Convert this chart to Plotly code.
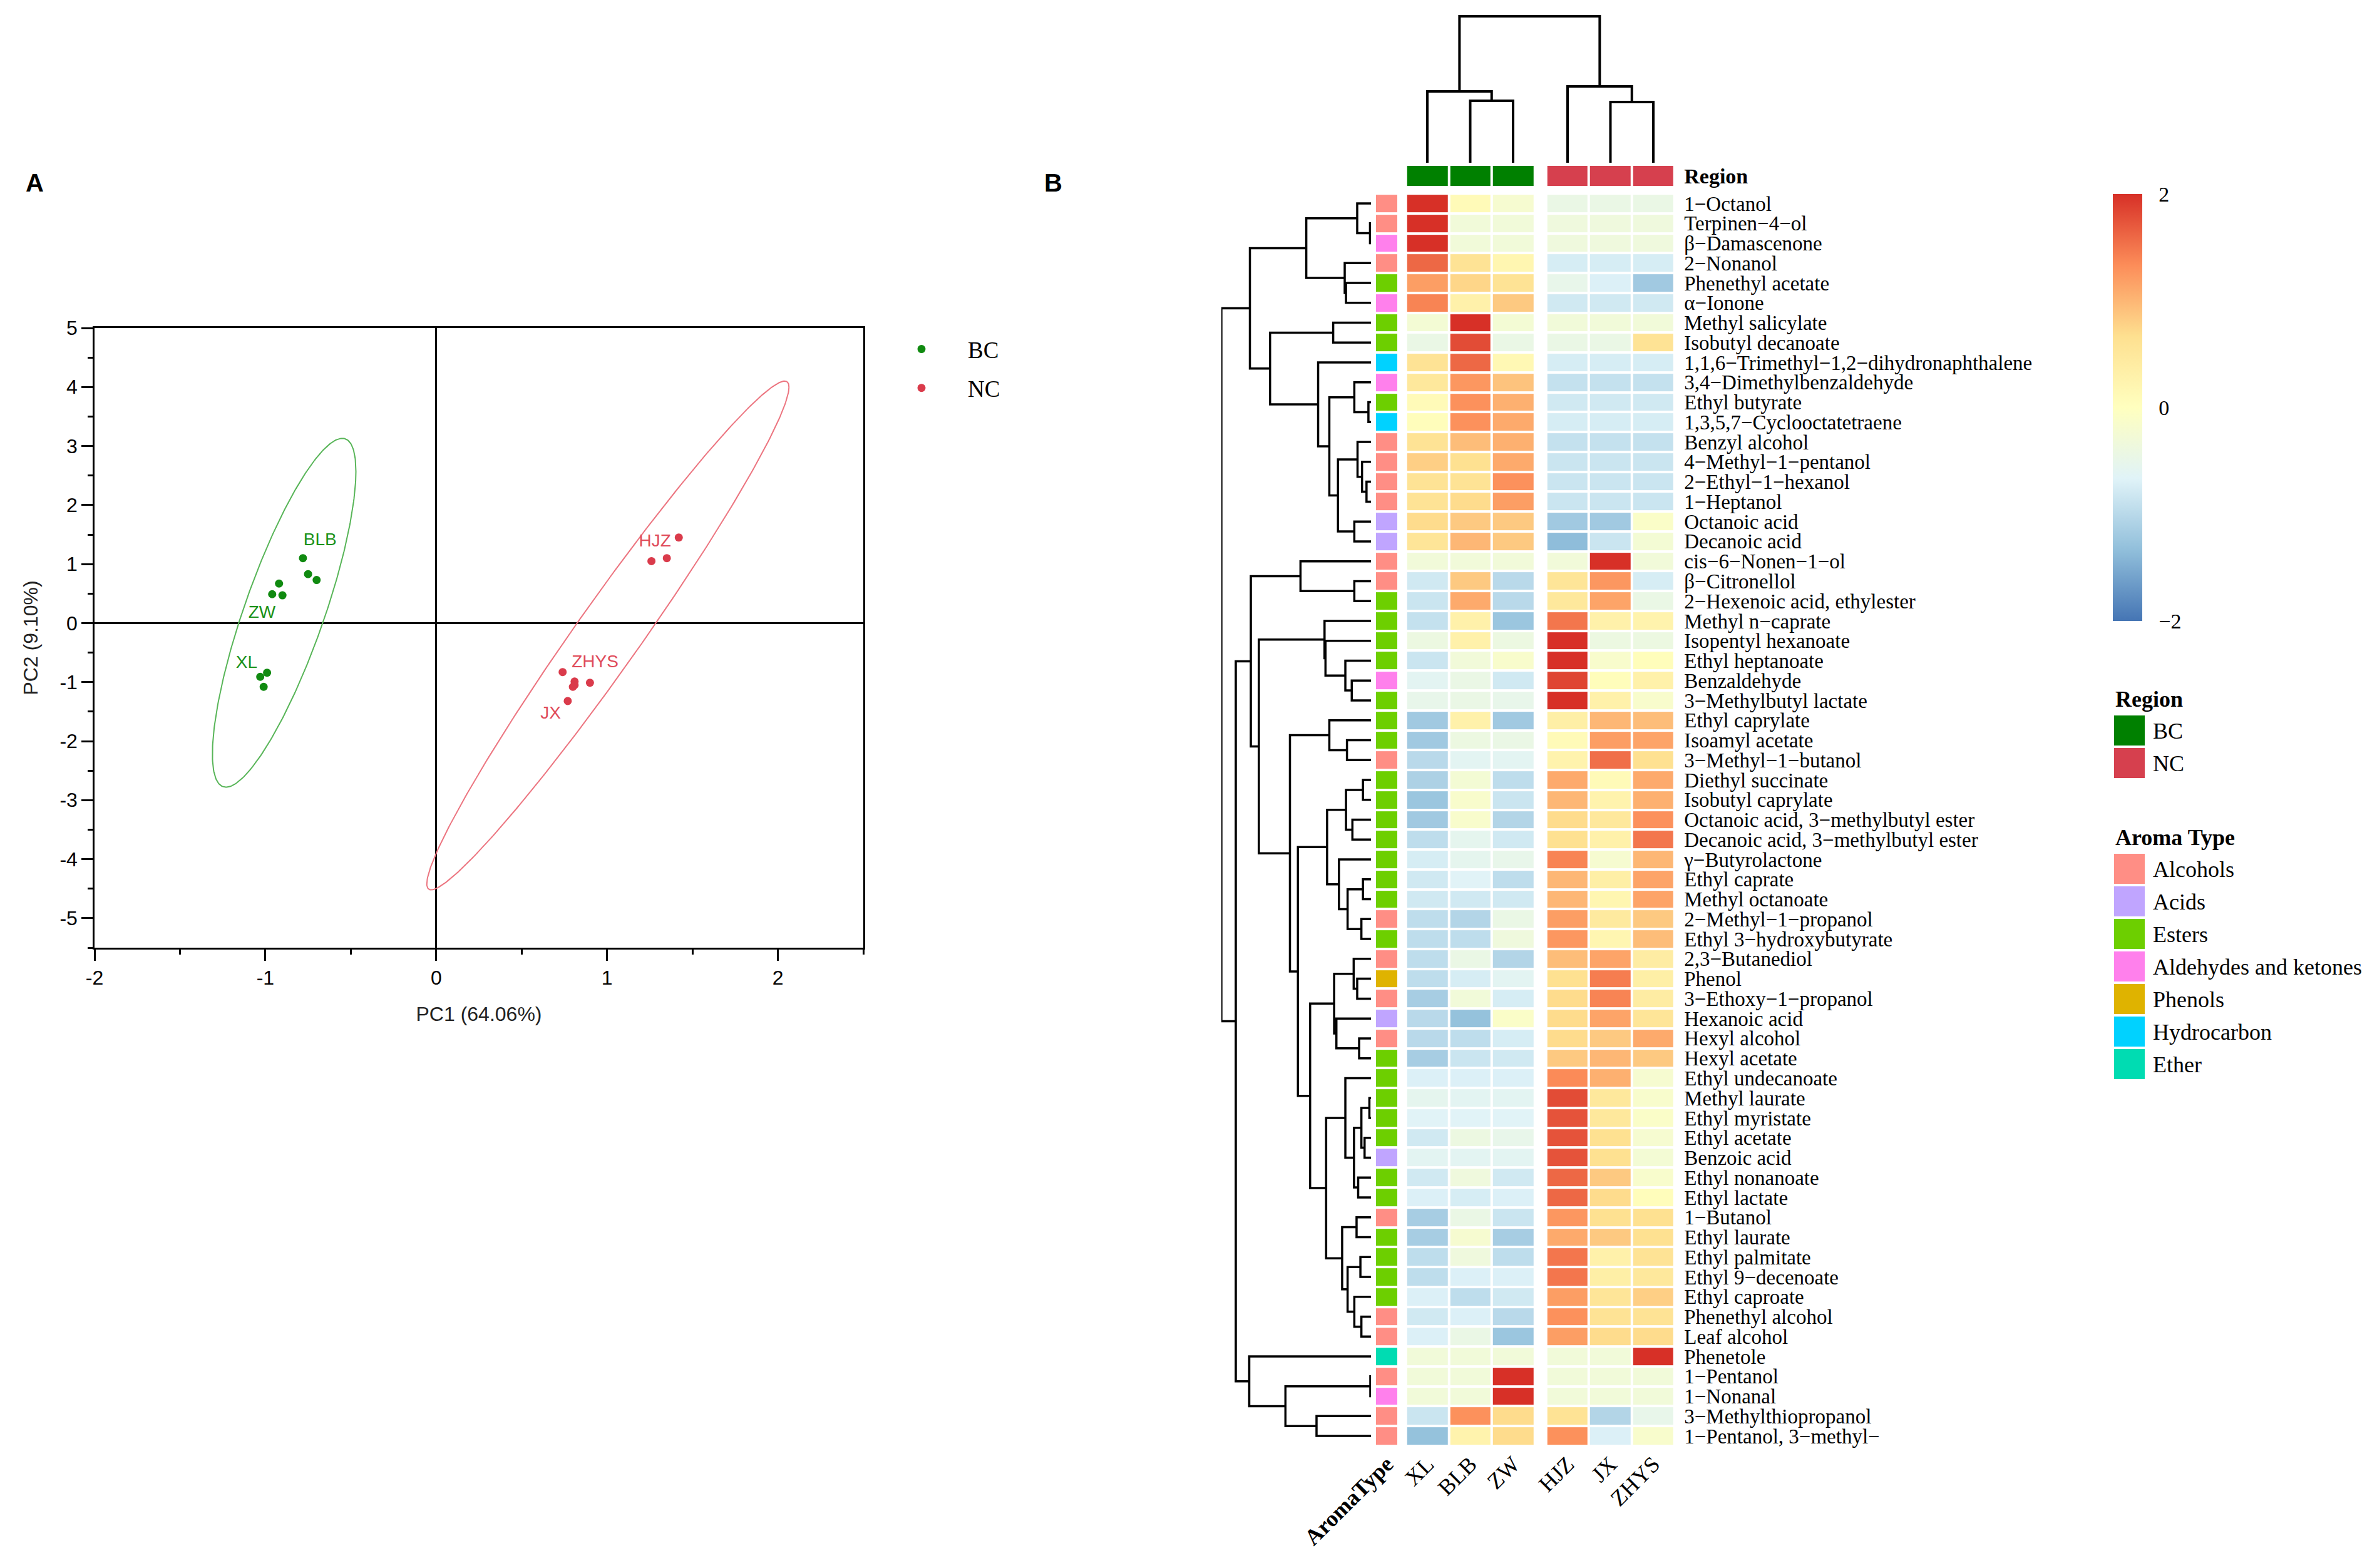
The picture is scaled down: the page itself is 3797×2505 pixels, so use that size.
import numpy as np
import plotly.graph_objects as go

W, H = 3797, 2505
PAGE_OFF = 8  # the page body offsets the figure by 8 px; positions below are page pixels
def fx(p): return (p - PAGE_OFF) / W
def fy(p): return 1 - (p - PAGE_OFF) / H

# ---------------- PCA data ----------------
pca_sample = ["BLB", "BLB", "BLB", "ZW", "ZW", "ZW", "XL", "XL", "XL",
              "HJZ", "HJZ", "HJZ", "ZHYS", "ZHYS", "ZHYS", "JX", "JX", "JX"]
pca_region = ["BC"] * 9 + ["NC"] * 9
pc1 = [-0.78, -0.75, -0.70, -0.92, -0.96, -0.90, -0.99, -1.03, -1.01,
       1.42, 1.35, 1.26, 0.74, 0.81, 0.90, 0.80, 0.77, 0.81]
pc2 = [1.10, 0.83, 0.73, 0.67, 0.49, 0.47, -0.84, -0.91, -1.08,
       1.45, 1.10, 1.05, -0.83, -0.99, -1.01, -1.08, -1.32, -1.05]
label_names = ["BLB", "ZW", "XL", "HJZ", "ZHYS", "JX"]
label_region = ["BC", "BC", "BC", "NC", "NC", "NC"]
label_pc1 = [-0.68, -1.02, -1.11, 1.28, 0.93, 0.67]
label_pc2 = [1.39, 0.16, -0.69, 1.37, -0.67, -1.54]
# confidence ellipse parameters: centre, sd along PC1/PC2, correlation
ell_region = ["BC", "NC"]
ell_cx = [-0.89, 1.005]
ell_cy = [0.175, -0.21]
ell_sx = [0.42, 1.06]
ell_sy = [2.955, 4.31]
ell_rho = [0.81, 0.976]

# ---------------- Heatmap data ----------------
samples = ["XL", "BLB", "ZW", "HJZ", "JX", "ZHYS"]
sample_region = ["BC", "BC", "BC", "NC", "NC", "NC"]
compounds = [
    "1−Octanol", "Terpinen−4−ol", "β−Damascenone", "2−Nonanol", "Phenethyl acetate",
    "α−Ionone", "Methyl salicylate", "Isobutyl decanoate",
    "1,1,6−Trimethyl−1,2−dihydronaphthalene", "3,4−Dimethylbenzaldehyde",
    "Ethyl butyrate", "1,3,5,7−Cyclooctatetraene", "Benzyl alcohol",
    "4−Methyl−1−pentanol", "2−Ethyl−1−hexanol", "1−Heptanol", "Octanoic acid",
    "Decanoic acid", "cis−6−Nonen−1−ol", "β−Citronellol",
    "2−Hexenoic acid, ethylester", "Methyl n−caprate", "Isopentyl hexanoate",
    "Ethyl heptanoate", "Benzaldehyde", "3−Methylbutyl lactate", "Ethyl caprylate",
    "Isoamyl acetate", "3−Methyl−1−butanol", "Diethyl succinate", "Isobutyl caprylate",
    "Octanoic acid, 3−methylbutyl ester", "Decanoic acid, 3−methylbutyl ester",
    "γ−Butyrolactone", "Ethyl caprate", "Methyl octanoate", "2−Methyl−1−propanol",
    "Ethyl 3−hydroxybutyrate", "2,3−Butanediol", "Phenol", "3−Ethoxy−1−propanol",
    "Hexanoic acid", "Hexyl alcohol", "Hexyl acetate", "Ethyl undecanoate",
    "Methyl laurate", "Ethyl myristate", "Ethyl acetate", "Benzoic acid",
    "Ethyl nonanoate", "Ethyl lactate", "1−Butanol", "Ethyl laurate",
    "Ethyl palmitate", "Ethyl 9−decenoate", "Ethyl caproate", "Phenethyl alcohol",
    "Leaf alcohol", "Phenetole", "1−Pentanol", "1−Nonanal", "3−Methylthiopropanol",
    "1−Pentanol, 3−methyl−"]
aroma_of_compound = [
    "Alcohols", "Alcohols", "Aldehydes and ketones", "Alcohols", "Esters",
    "Aldehydes and ketones", "Esters", "Esters", "Hydrocarbon", "Aldehydes and ketones",
    "Esters", "Hydrocarbon", "Alcohols", "Alcohols", "Alcohols", "Alcohols", "Acids",
    "Acids", "Alcohols", "Alcohols", "Esters", "Esters", "Esters", "Esters",
    "Aldehydes and ketones", "Esters", "Esters", "Esters", "Alcohols", "Esters",
    "Esters", "Esters", "Esters", "Esters", "Esters", "Esters", "Alcohols", "Esters",
    "Alcohols", "Phenols", "Alcohols", "Acids", "Alcohols", "Esters", "Esters",
    "Esters", "Esters", "Esters", "Acids", "Esters", "Esters", "Alcohols", "Esters",
    "Esters", "Esters", "Esters", "Alcohols", "Alcohols", "Ether", "Alcohols",
    "Aldehydes and ketones", "Alcohols", "Alcohols"]

z_XL = [2.0, 2.0, 2.0, 1.6, 1.2, 1.4, -0.25, -0.45, 0.6, 0.5, 0.1, 0.05, 0.6, 0.8, 0.6,
        0.6, 0.7, 0.55, -0.3, -0.8, -0.85, -0.9, -0.4, -0.85, -0.6, -0.5, -1.2, -1.2,
        -1.0, -1.1, -1.25, -1.2, -0.95, -0.75, -0.8, -0.8, -0.95, -0.95, -0.95, -0.95,
        -1.15, -1.0, -1.0, -1.15, -0.7, -0.55, -0.65, -0.8, -0.6, -0.8, -0.7, -1.15,
        -1.15, -0.95, -0.95, -0.7, -0.8, -0.7, -0.3, -0.3, -0.3, -0.85, -1.3]
z_BLB = [0.1, -0.3, -0.3, 0.6, 0.75, 0.3, 2.0, 1.8, 1.6, 1.25, 1.3, 1.3, 0.95, 0.65,
         0.6, 0.7, 0.85, 1.0, -0.3, 0.85, 1.1, 0.3, 0.3, -0.3, -0.45, -0.45, 0.3, -0.4,
         -0.6, -0.25, -0.15, -0.15, -0.55, -0.55, -0.65, -0.8, -1.05, -0.95, -0.45,
         -0.75, -0.3, -1.3, -0.95, -0.85, -0.7, -0.6, -0.65, -0.4, -0.6, -0.35, -0.75,
         -0.45, -0.2, -0.35, -0.7, -0.95, -0.7, -0.45, -0.3, -0.3, -0.3, 1.3, 0.25]
z_ZW = [-0.2, -0.3, -0.3, 0.2, 0.6, 0.85, -0.25, -0.45, 0.15, 0.9, 1.05, 1.1, 1.05, 1.1,
        1.3, 1.2, 0.85, 0.85, -0.3, -1.0, -1.0, -1.25, -0.4, -0.15, -0.8, -0.5, -1.2,
        -0.45, -0.6, -0.95, -0.85, -1.05, -0.8, -0.5, -0.95, -0.8, -0.45, -0.35, -1.05,
        -0.6, -0.75, -0.1, -0.75, -0.8, -0.7, -0.6, -0.65, -0.5, -0.6, -0.8, -0.7,
        -0.85, -1.15, -0.95, -0.7, -0.8, -1.0, -1.25, -0.3, 2.0, 2.0, 0.7, 0.7]
z_HJZ = [-0.45, -0.35, -0.35, -0.75, -0.5, -0.8, -0.3, -0.45, -0.75, -0.9, -0.8, -0.75,
         -0.9, -0.85, -0.85, -0.85, -1.2, -1.35, -0.3, 0.55, 0.5, 1.5, 2.0, 2.0, 1.85,
         2.0, 0.35, 0.1, 0.25, 1.1, 1.0, 0.7, 0.65, 1.4, 1.0, 1.0, 1.2, 1.25, 0.95, 0.65,
         0.7, 0.7, 0.7, 0.85, 1.35, 1.8, 1.75, 1.75, 1.75, 1.6, 1.6, 1.25, 1.1, 1.5, 1.5,
         1.2, 1.3, 1.2, -0.3, -0.3, -0.3, 0.6, 1.3]
z_JX = [-0.45, -0.35, -0.35, -0.75, -0.7, -0.8, -0.3, -0.45, -0.75, -0.9, -0.8, -0.75,
        -0.9, -0.85, -0.85, -0.85, -1.2, -0.85, 2.0, 1.25, 1.15, 0.3, -0.4, -0.15, 0.05,
        0.3, 1.0, 1.2, 1.55, 0.1, 0.25, 0.5, 0.3, -0.2, 0.35, 0.2, 0.45, 0.2, 1.15, 1.45,
        1.4, 1.15, 0.85, 1.0, 1.05, 0.5, 0.5, 0.65, 0.65, 0.85, 0.7, 0.65, 0.85, 0.3,
        0.35, 0.55, 0.6, 0.7, -0.3, -0.3, -0.3, -1.05, -0.7]
z_ZHYS = [-0.45, -0.35, -0.35, -0.75, -1.2, -0.8, -0.3, 0.6, -0.75, -0.9, -0.8, -0.75,
          -0.9, -0.85, -0.85, -0.85, -0.1, -0.25, -0.3, -0.75, -0.45, 0.25, -0.4, 0.05,
          0.3, -0.15, 0.95, 1.15, 0.65, 1.1, 1.05, 1.3, 1.5, 1.0, 1.15, 1.15, 0.85, 0.95,
          0.4, 0.35, 0.4, 0.55, 1.1, 0.85, -0.2, -0.15, -0.1, -0.2, -0.25, -0.15, 0.05,
          0.65, 0.65, 0.6, 0.5, 0.8, 0.6, 0.7, 2.0, -0.3, -0.3, -0.5, -0.15]
sample_values = [z_XL, z_BLB, z_ZW, z_HJZ, z_JX, z_ZHYS]

# dendrograms: (height, left, right); leaves = row / column numbers
t_a = (202, (43, 1, (3, 2, 3)), (82, 4, (78, 5, 6)))
t_c = (130, (52, 10, (8, 11, 12)), (103, (42, 13, (28, 14, (14, 15, 16))), (52, 17, 18)))
t_b = (315, (118, 7, 8), (165, 9, t_c))
t_top = (378, t_a, t_b)
t_e = (220, 19, (52, 20, 21))
t_g = (145, 22, (142, 23, (80, 24, (60, 25, 26))))
t_h1 = (130, 27, (75, 28, 29))
t_h2 = (137, (78, (25, 30, 31), (58, 32, 33)), (100, 34, (73, (25, 35, 36), (30, 37, 38))))
t_i1 = (115, (54, 39, (43, 40, 41)), (108, 42, (37, 43, 44)))
t_i2 = (140, (80, 45, (53, (30, (5, 46, 47), (20, 48, 49)), (40, 50, 51))),
        (90, (45, 52, 53), (73, (33, 54, 55), (52, 56, (30, 57, 58)))))
t_mid = (375, t_e, (350, t_g, (253, t_h1, (228, t_h2, (190, t_i1, t_i2)))))
t_j = (380, 59, (267, (2, 60, 61), (170, 62, 63)))
row_tree = (467, t_top, (422, t_mid, t_j))
col_tree = (234, (114, 1, (99, 2, 3)), (122, 4, (97, 5, 6)))

aroma_types = ["Alcohols", "Acids", "Esters", "Aldehydes and ketones", "Phenols",
               "Hydrocarbon", "Ether"]
aroma_colors = ["#FF8E85", "#C0A5FF", "#6DCF00", "#FF80EC", "#DFB300", "#00D2FF", "#00DCB2"]
region_names = ["BC", "NC"]
region_colors = ["#008000", "#D6404E"]
heat_colors = ["#4575B4", "#91BFDB", "#E0F3F8", "#FFFFBF", "#FEE090", "#FC8D59", "#D73027"]

SERIF = "Liberation Serif"
SANS = "Liberation Sans"

def discrete_scale(colors):
    n = len(colors)
    cs = []
    for k, c in enumerate(colors):
        cs.append([k / n, c])
        cs.append([(k + 1) / n, c])
    return cs

def dendro(node, xs, ys, pos_of, orient):
    if isinstance(node, int):
        return pos_of(node), 0.0
    h, a, b = node
    pa, ha = dendro(a, xs, ys, pos_of, orient)
    pb, hb = dendro(b, xs, ys, pos_of, orient)
    pts = [(ha, pa), (h, pa), (h, pb), (hb, pb)]
    for hh, pp in pts:
        if orient == "row":
            xs.append(hh); ys.append(pp)
        else:
            xs.append(pp); ys.append(hh)
    xs.append(None); ys.append(None)
    return (pa + pb) / 2, h

fig = go.Figure()

# ---------------- Panel A: PCA ----------------
reg_color = dict(zip(region_names, ["#108A10", "#DA3B4B"]))
ell_color = dict(zip(region_names, ["#58B558", "#EC7580"]))
lab_color = dict(zip(region_names, ["#1A921A", "#E04B5A"]))
t = np.linspace(0, 2 * np.pi, 300)
for i, r in enumerate(ell_region):
    ex = ell_cx[i] + ell_sx[i] * np.cos(t)
    ey = ell_cy[i] + ell_sy[i] * (ell_rho[i] * np.cos(t) + np.sqrt(1 - ell_rho[i] ** 2) * np.sin(t))
    fig.add_trace(go.Scatter(x=ex, y=ey, mode="lines", line=dict(color=ell_color[r], width=2),
                             showlegend=False, hoverinfo="skip", xaxis="x", yaxis="y"))
for gi, r in enumerate(region_names):
    idx = [i for i, rr in enumerate(pca_region) if rr == r]
    fig.add_trace(go.Scatter(x=[pc1[i] for i in idx], y=[pc2[i] for i in idx], mode="markers",
                             marker=dict(color=reg_color[r], size=13), name=r,
                             legendgroup=r, showlegend=True, xaxis="x", yaxis="y",
                             text=[pca_sample[i] for i in idx]))
for i, nm in enumerate(label_names):
    fig.add_trace(go.Scatter(x=[label_pc1[i]], y=[label_pc2[i]], mode="text", text=[nm],
                             textfont=dict(family=SANS, size=28, color=lab_color[label_region[i]]),
                             showlegend=False, hoverinfo="skip", xaxis="x", yaxis="y"))

xt = [-2, -1, 0, 1, 2]
yt = [5, 4, 3, 2, 1, 0, -1, -2, -3, -4, -5]
pca_axis = dict(showline=True, mirror=True, linecolor="black", linewidth=2.5,
                ticks="outside", ticklen=18, tickwidth=2.5, tickcolor="black",
                minor=dict(dtick=0.5, tick0=0, ticks="outside", ticklen=8, tickwidth=2.5,
                           tickcolor="black"),
                zeroline=True, zerolinecolor="black", zerolinewidth=2.5, showgrid=False,
                automargin=False, tickfont=dict(family=SANS, size=32, color="black"))
fig.update_layout(
    xaxis=dict(domain=[fx(151), fx(1379)], range=[-2, 2.5], anchor="y",
               tickvals=xt, ticktext=[str(v) for v in xt],
               title=dict(text="PC1 (64.06%)", font=dict(family=SANS, size=32, color="#222"),
                          standoff=30), **pca_axis),
    yaxis=dict(domain=[fy(1514), fy(524)], range=[-5.5, 5], anchor="x",
               tickvals=yt, ticktext=[str(v) for v in yt],
               title=dict(text="PC2 (9.10%)", font=dict(family=SANS, size=32, color="#222"),
                          standoff=26), **pca_axis),
)

# ---------------- Panel B: heatmap ----------------
gap = 0.27
col_pos = [i + (gap if sample_region[i] == "NC" else 0) for i in range(len(samples))]
rows = list(range(len(compounds)))
hscale = [[k / (len(heat_colors) - 1), c] for k, c in enumerate(heat_colors)]

first = True
for r in region_names:
    cols = [i for i, rr in enumerate(sample_region) if rr == r]
    z = [[sample_values[c][j] for c in cols] for j in rows]
    fig.add_trace(go.Heatmap(
        z=z, x=[col_pos[c] for c in cols], y=rows, xaxis="x2", yaxis="y2",
        zmin=-2, zmax=2, colorscale=hscale, xgap=4, ygap=4, showscale=first,
        colorbar=dict(x=fx(3375), xanchor="left", xpad=0, ypad=0, y=fy(651), yanchor="middle",
                      len=682, lenmode="pixels", thickness=47, outlinewidth=0,
                      tickvals=[-2, 0, 2], ticktext=["−2", "0", "2"], ticks="outside",
                      ticklen=20, tickcolor="rgba(0,0,0,0)",
                      tickfont=dict(family=SERIF, size=34, color="black")),
        hoverinfo="skip"))
    first = False
    code = region_names.index(r)
    fig.add_trace(go.Heatmap(
        z=[[code for _ in cols]], x=[col_pos[c] for c in cols], y=[0], xaxis="x2", yaxis="y4",
        zmin=-0.5, zmax=len(region_names) - 0.5, colorscale=discrete_scale(region_colors),
        xgap=4, showscale=False, hoverinfo="skip"))

aroma_code = [aroma_types.index(a) for a in aroma_of_compound]
fig.add_trace(go.Heatmap(
    z=[[c] for c in aroma_code], x=[0], y=rows, xaxis="x3", yaxis="y2",
    zmin=-0.5, zmax=len(aroma_types) - 0.5, colorscale=discrete_scale(aroma_colors),
    ygap=4, showscale=False, hoverinfo="skip"))

rx, ry = [], []
dendro(row_tree, rx, ry, lambda leaf: leaf - 1, "row")
fig.add_trace(go.Scatter(x=rx, y=ry, mode="lines", line=dict(color="black", width=3.5),
                         xaxis="x6", yaxis="y2", showlegend=False, hoverinfo="skip"))
cx, cy = [], []
dendro(col_tree, cx, cy, lambda leaf: col_pos[leaf - 1], "col")
fig.add_trace(go.Scatter(x=cx, y=cy, mode="lines", line=dict(color="black", width=4),
                         xaxis="x2", yaxis="y5", showlegend=False, hoverinfo="skip"))

fig.add_trace(go.Heatmap(
    z=[[k] for k in range(len(region_names))], x=[0], y=list(range(len(region_names))),
    xaxis="x7", yaxis="y7", zmin=-0.5, zmax=len(region_names) - 0.5,
    colorscale=discrete_scale(region_colors), ygap=4, showscale=False, hoverinfo="skip"))
fig.add_trace(go.Heatmap(
    z=[[k] for k in range(len(aroma_types))], x=[0], y=list(range(len(aroma_types))),
    xaxis="x7", yaxis="y8", zmin=-0.5, zmax=len(aroma_types) - 0.5,
    colorscale=discrete_scale(aroma_colors), ygap=4, showscale=False, hoverinfo="skip"))

hidden = dict(showgrid=False, zeroline=False, showline=False, ticks="", showticklabels=False,
              automargin=False)
plain = dict(showgrid=False, zeroline=False, showline=False, ticks="", automargin=False)
row_top, row_pitch = 309.1, 31.76
row_bot = row_top + row_pitch * len(compounds)
x2_left, col_pitch = 2245.75, 68.5
x2_right = x2_left + col_pitch * (len(samples) + gap)
dend_tip, dend_root_px, dend_root = 2190, 1951, 467

fig.update_layout(
    xaxis2=dict(domain=[fx(x2_left), fx(x2_right)], range=[-0.5, len(samples) - 0.5 + gap],
                anchor="y2", tickvals=col_pos, ticktext=samples, tickangle=-45,
                tickfont=dict(family=SERIF, size=36, color="black"), **plain),
    yaxis2=dict(domain=[fy(row_bot), fy(row_top)], range=[len(compounds) - 0.5, -0.5],
                anchor="x2", side="right", tickvals=rows, ticktext=compounds,
                ticklabelstandoff=14, tickfont=dict(family=SERIF, size=33, color="black"),
                **plain),
    xaxis3=dict(domain=[fx(2198), fx(2232)], range=[-0.5, 0.5], anchor="y2",
                tickvals=[0], ticktext=["<b>AromaType</b>"], tickangle=-45,
                tickfont=dict(family=SERIF, size=36, color="black"), **plain),
    yaxis4=dict(domain=[fy(297), fy(265)], range=[-0.5, 0.5], anchor="x2", side="right",
                tickvals=[0], ticktext=["<b>Region</b>"], ticklabelstandoff=14,
                tickfont=dict(family=SERIF, size=34, color="black"), **plain),
    yaxis5=dict(domain=[fy(260), fy(24)], range=[0, 236], anchor="x2", **hidden),
    xaxis6=dict(domain=[fx(dend_root_px), fx(dend_tip)], range=[dend_root, 0],
                anchor="y2", **hidden),
    xaxis7=dict(domain=[fx(3377), fx(3426)], range=[-0.5, 0.5], anchor="y7", **hidden),
    yaxis7=dict(domain=[fy(1245), fy(1141)], range=[len(region_names) - 0.5, -0.5], anchor="x7",
                side="right", tickvals=list(range(len(region_names))), ticktext=region_names,
                ticklabelstandoff=12, tickfont=dict(family=SERIF, size=36, color="black"),
                **plain),
    yaxis8=dict(domain=[fy(1726), fy(1362)], range=[len(aroma_types) - 0.5, -0.5], anchor="x7",
                side="right", tickvals=list(range(len(aroma_types))), ticktext=aroma_types,
                ticklabelstandoff=12, tickfont=dict(family=SERIF, size=36, color="black"),
                **plain),
)

fig.update_layout(
    width=W, height=H, margin=dict(l=0, r=0, t=0, b=0, autoexpand=False),
    paper_bgcolor="white", plot_bgcolor="white",
    font=dict(family=SERIF, color="black"),
    showlegend=True,
    legend=dict(x=fx(1398), y=fy(527), xanchor="left", yanchor="top",
                font=dict(family=SERIF, size=37, color="black"), tracegroupgap=11,
                bgcolor="rgba(0,0,0,0)", itemwidth=138),
    annotations=[
        dict(text="<b>A</b>", x=fx(55), y=fy(292), xref="paper", yref="paper",
             xanchor="center", yanchor="middle",
             showarrow=False, font=dict(family=SANS, size=40, color="black")),
        dict(text="<b>B</b>", x=fx(1682), y=fy(292), xref="paper", yref="paper",
             xanchor="center", yanchor="middle",
             showarrow=False, font=dict(family=SANS, size=40, color="black")),
        dict(text="<b>Region</b>", x=fx(3377), y=fy(1117), xref="paper", yref="paper",
             xanchor="left", yanchor="middle", showarrow=False,
             font=dict(family=SERIF, size=36, color="black")),
        dict(text="<b>Aroma Type</b>", x=fx(3377), y=fy(1338), xref="paper", yref="paper",
             xanchor="left", yanchor="middle", showarrow=False,
             font=dict(family=SERIF, size=36, color="black")),
    ],
)

fig.write_html("out.html")
